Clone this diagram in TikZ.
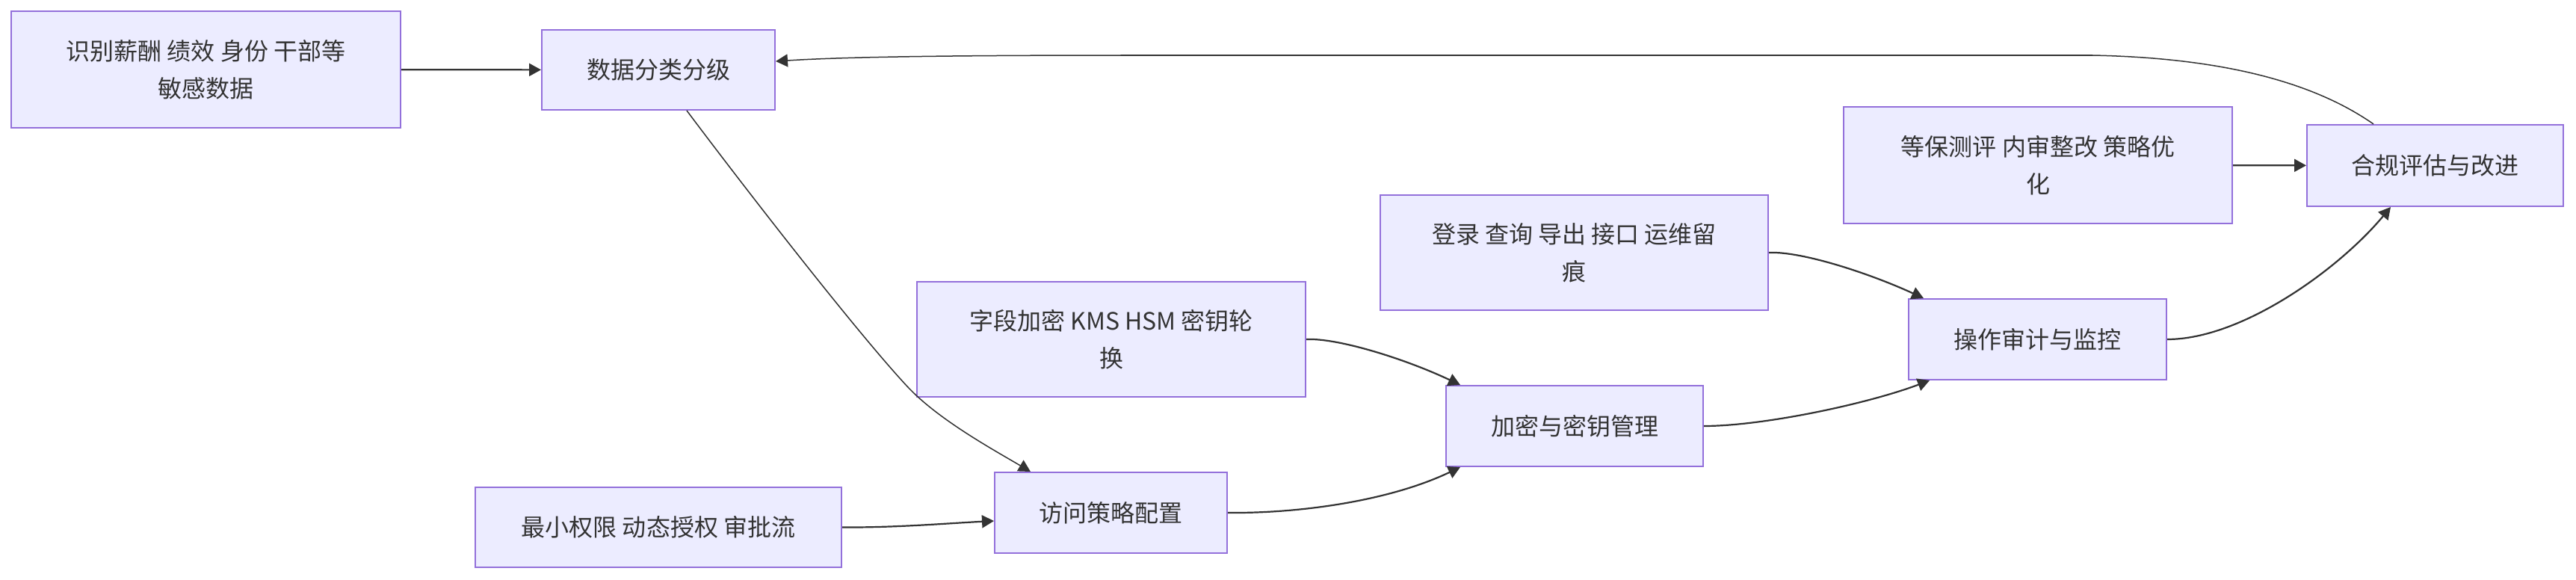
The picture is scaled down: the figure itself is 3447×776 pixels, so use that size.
\documentclass[tikz,border=0pt]{standalone}
\usepackage{fontspec}
\setmainfont{Noto Sans CJK SC}
\usetikzlibrary{arrows.meta,calc}
\definecolor{nodefill}{HTML}{ECECFF}
\definecolor{nodeline}{HTML}{9370DB}
\definecolor{edgecol}{HTML}{333333}
\begin{document}
\begin{tikzpicture}[x=1pt,y=-1pt,
  box/.style={draw=nodeline, fill=nodefill, line width=2pt, text=edgecol,
    font=\fontsize{32}{50}\selectfont, align=center, inner sep=0pt},
  edge/.style={draw=edgecol, line width=2.2pt, -{Triangle[length=16pt,width=17pt]}},
  thinedge/.style={edge, line width=1.5pt}]
\useasboundingbox[fill=white] (0,0) rectangle (3447,776);
\node[box, minimum width=521pt, minimum height=156pt] (A) at (275.5,93) {识别薪酬 绩效 身份 干部等\\敏感数据};
\node[box, minimum width=312pt, minimum height=107pt] (B) at (881,93.5) {数据分类分级};
\node[box, minimum width=520pt, minimum height=156pt] (C) at (2727,221) {等保测评 内审整改 策略优\\化};
\node[box, minimum width=343pt, minimum height=109pt] (D) at (3258.5,221.5) {合规评估与改进};
\node[box, minimum width=519pt, minimum height=154pt] (E) at (2106.5,338) {登录 查询 导出 接口 运维留\\痕};
\node[box, minimum width=345pt, minimum height=108pt] (F) at (2726.5,454) {操作审计与监控};
\node[box, minimum width=520pt, minimum height=154pt] (G) at (1487,454) {字段加密 KMS HSM 密钥轮\\换};
\node[box, minimum width=344pt, minimum height=108pt] (H) at (2107,570) {加密与密钥管理};
\node[box, minimum width=490pt, minimum height=107pt] (I) at (881,705.5) {最小权限 动态授权 审批流};
\node[box, minimum width=311pt, minimum height=108pt] (J) at (1486.5,686) {访问策略配置};

\draw[edge] (A) -- (B);
\draw[edge] (C) -- (D);
\draw[edge] (I.east) .. controls (1200,706) and (1270,700) .. ($(J.west)+(0,11)$);
\draw[edge] (J.east) .. controls (1740,687) and (1860,670) .. ($(H.south west)+(20,0)$);
\draw[edge] (G.east) .. controls (1790,452) and (1880,480) .. ($(H.north west)+(20,0)$);
\draw[edge] (H.east) .. controls (2360,570) and (2500,540) .. ($(F.south west)+(29,0)$);
\draw[edge] (E.east) .. controls (2410,336) and (2500,365) .. ($(F.north west)+(21,0)$);
\draw[edge] (F.east) .. controls (3000,454) and (3130,360) .. ($(D.south west)+(113,0)$);
\draw[thinedge] ($(D.north west)+(90,0)$) .. controls (3110,120) and (3000,78) .. (2800,74)
  -- (1500,74) .. controls (1200,74) and (1100,78) .. ($(B.east)+(0,-11.5)$);
\draw[thinedge] ($(B.south west)+(195,0)$) .. controls (997,252) and (1146,444) .. (1214,517)
  .. controls (1255,561) and (1328,601) .. ($(J.north west)+(49,0)$);
\end{tikzpicture}
\end{document}
